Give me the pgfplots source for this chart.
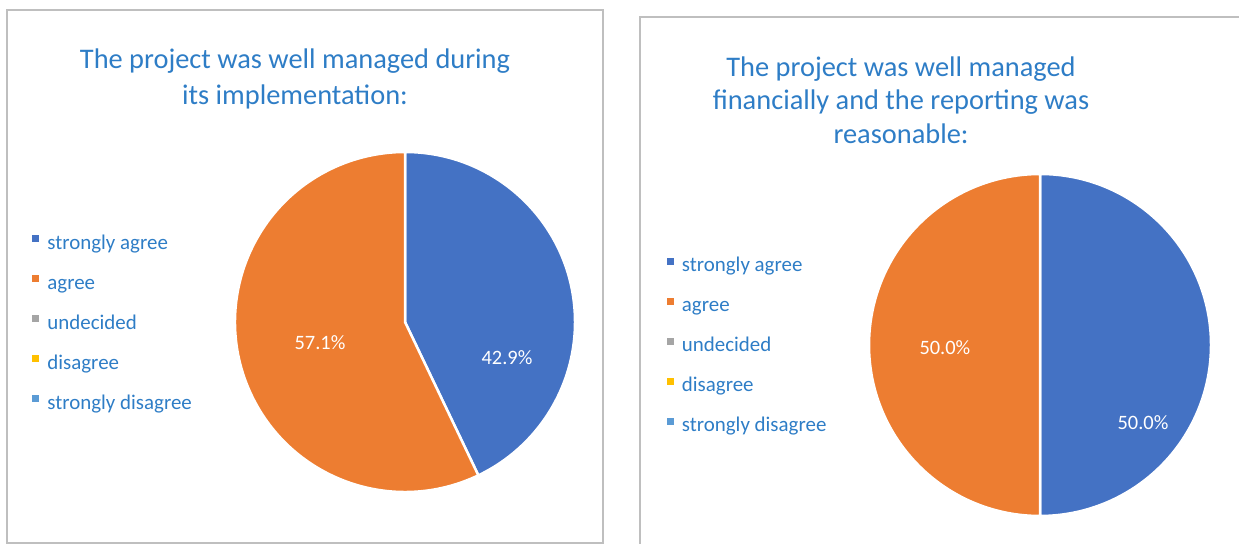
\documentclass[border=0pt]{standalone}
\usepackage{pgfplots}
\usepackage{pgfplotstable}
\usepackage{fontspec}
\setmainfont{Carlito}
\pgfplotsset{compat=1.18}

\definecolor{c1}{HTML}{4472C4}
\definecolor{c2}{HTML}{ED7D31}
\definecolor{c3}{HTML}{A5A5A5}
\definecolor{c4}{HTML}{FFC000}
\definecolor{c5}{HTML}{5B9BD5}
\definecolor{txt}{HTML}{2E7DC6}
\definecolor{frame}{HTML}{BFBFBF}

% share of answers, in percent
\pgfplotstableread{
cat value
1 42.9
2 57.1
3 0
4 0
5 0
}\leftdata
\pgfplotstableread{
cat value
1 50.0
2 50.0
3 0
4 0
5 0
}\rightdata

\pgfplotsset{
  pie/.style={
    scale only axis, width=340bp, height=340bp, hide axis,
    xmin=-1, xmax=1, ymin=-1, ymax=1, clip=false,
    legend cell align=left,
    legend style={draw=none, fill=none, font=\fontsize{21}{24}\selectfont,
      text=txt, inner sep=0pt, row sep=22bp,
      nodes={inner sep=0pt, text height=14bp, text depth=4bp}},
    legend image code/.code={
      \fill[##1, draw=none] (0bp,2bp) rectangle (7bp,9bp);
      \path (15bp,0bp);
    },
  },
}
\tikzset{
  slice/.style={draw=white, line width=2.5bp},
  lbl/.style={text=white, font=\fontsize{20.5}{24}\selectfont},
}

\newcommand{\pct}[1]{\pgfmathprintnumber[fixed,fixed zerofill,precision=1,assume math mode=true]{#1}\%}

\begin{document}
\begin{tikzpicture}[x=1bp,y=1bp]
  \useasboundingbox (0,0) rectangle (1239,544);
  \draw[frame, line width=1.5bp] (7,1) rectangle (603,534);
  \draw[frame, line width=1.5bp] (640,-20) rectangle (1260,527);

  \node[text=txt, align=center, font=\fontsize{28.5}{36}\selectfont]
    at (295,465) {The project was well managed during\\its implementation:};
  \node[text=txt, align=center, font=\fontsize{28.5}{33.5}\selectfont]
    at (901,444) {The project was well managed\\financially and the reporting was\\reasonable:};

  \pgfplotstablegetelem{0}{value}\of\leftdata \let\lA\pgfplotsretval
  \pgfplotstablegetelem{1}{value}\of\leftdata \let\lB\pgfplotsretval
  \pgfmathsetmacro{\lEndA}{90-3.6*\lA}
  \pgfmathsetmacro{\lEndB}{\lEndA-3.6*\lB}
  \pgfplotstablegetelem{0}{value}\of\rightdata \let\rA\pgfplotsretval
  \pgfplotstablegetelem{1}{value}\of\rightdata \let\rB\pgfplotsretval
  \pgfmathsetmacro{\rEndA}{90-3.6*\rA}
  \pgfmathsetmacro{\rEndB}{\rEndA-3.6*\rB}

  \begin{axis}[pie, at={(405bp,222bp)}, anchor=center,
      legend style={at={(-0.597,0.756)}, anchor=north west}]
    \addlegendimage{fill=c1}\addlegendentry{strongly agree}
    \addlegendimage{fill=c2}\addlegendentry{agree}
    \addlegendimage{fill=c3}\addlegendentry{undecided}
    \addlegendimage{fill=c4}\addlegendentry{disagree}
    \addlegendimage{fill=c5}\addlegendentry{strongly disagree}
    \fill[c1, slice] (0,0) -- (0,1) arc[start angle=90, end angle=\lEndA, radius=1] -- cycle;
    \fill[c2, slice] (0,0) -- ({cos(\lEndA)},{sin(\lEndA)}) arc[start angle=\lEndA, end angle=\lEndB, radius=1] -- cycle;
    \node[lbl] at (0.6,-0.212) {\pct{\lA}};
    \node[lbl] at (-0.5,-0.124) {\pct{\lB}};
  \end{axis}

  \begin{axis}[pie, width=342bp, height=342bp, at={(1040bp,199bp)}, anchor=center,
      legend style={at={(-0.592,0.756)}, anchor=north west}]
    \addlegendimage{fill=c1}\addlegendentry{strongly agree}
    \addlegendimage{fill=c2}\addlegendentry{agree}
    \addlegendimage{fill=c3}\addlegendentry{undecided}
    \addlegendimage{fill=c4}\addlegendentry{disagree}
    \addlegendimage{fill=c5}\addlegendentry{strongly disagree}
    \fill[c1, slice] (0,0) -- (0,1) arc[start angle=90, end angle=\rEndA, radius=1] -- cycle;
    \fill[c2, slice] (0,0) -- ({cos(\rEndA)},{sin(\rEndA)}) arc[start angle=\rEndA, end angle=\rEndB, radius=1] -- cycle;
    \node[lbl] at (0.602,-0.456) {\pct{\rA}};
    \node[lbl] at (-0.556,-0.018) {\pct{\rB}};
  \end{axis}
\end{tikzpicture}
\end{document}
